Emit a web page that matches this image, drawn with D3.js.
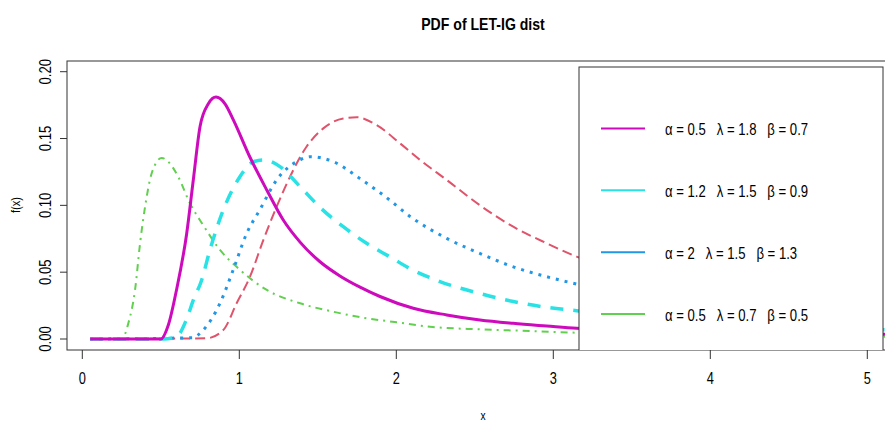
<!DOCTYPE html>
<html>
<head>
<meta charset="utf-8">
<script src="https://cdn.jsdelivr.net/npm/d3@7"></script>
<style>
  body { margin: 0; background: #fff; }
  svg text { font-family: "Liberation Sans", Arial, sans-serif; fill: #000; }
</style>
</head>
<body>
<svg id="chart" width="885" height="421"></svg>
<script>
// values
var magX = [0.05,0.50,0.548,0.60,0.665,0.707,0.75,0.803,0.852,0.909,0.962,1.068,1.175,1.28,1.387,1.514,1.641,1.769,1.896,2.108,2.321,2.533,2.745,2.958,3.149,4.0,5.2];
var magY = [0,0,0.0105,0.0367,0.079,0.119,0.159,0.176,0.181,0.176,0.164,0.136,0.1115,0.089,0.0725,0.0578,0.0472,0.0388,0.0318,0.023,0.018,0.0142,0.0117,0.0097,0.008,0.0055,0.0035];

var cyaX = [0.05,0.516,0.60,0.665,0.707,0.76,0.813,0.898,1.004,1.09,1.153,1.259,1.387,1.514,1.662,1.811,1.981,2.066,2.278,2.533,2.745,2.958,3.149,4.0,5.2];
var cyaY = [0,0,0.0017,0.015,0.029,0.044,0.0666,0.0965,0.1214,0.1326,0.134,0.129,0.114,0.0985,0.084,0.0716,0.060,0.054,0.043,0.034,0.028,0.0237,0.0212,0.012,0.0067];

var bluX = [0.05,0.70,0.77,0.877,0.962,1.047,1.13,1.238,1.387,1.45,1.6,1.769,1.917,2.108,2.321,2.533,2.745,2.958,3.127,4.0,5.2];
var bluY = [0,0.001,0.0067,0.0267,0.052,0.079,0.0965,0.119,0.134,0.1364,0.1326,0.120,0.1077,0.090,0.0753,0.064,0.054,0.0466,0.0417,0.022,0.011];

var redX = [0.05,0.79,0.898,0.983,1.068,1.153,1.238,1.323,1.429,1.535,1.662,1.748,1.875,2.024,2.151,2.321,2.533,2.745,2.958,3.149,4.0,5.2];
var redY = [0,0.0005,0.0067,0.0267,0.0466,0.074,0.099,0.1214,0.144,0.1576,0.165,0.1659,0.160,0.1464,0.134,0.119,0.100,0.084,0.0716,0.0616,0.037,0.0187];

var grnX = [0.05,0.251,0.293,0.336,0.368,0.40,0.442,0.506,0.548,0.611,0.686,0.771,0.877,0.983,1.175,1.387,1.599,1.811,2.003,2.215,2.533,2.851,3.149,4.0,5.2];
var grnY = [0,0,0.0117,0.0367,0.0716,0.099,0.124,0.1355,0.1326,0.1214,0.1015,0.085,0.0666,0.054,0.0367,0.0267,0.0204,0.0155,0.0125,0.0092,0.0072,0.006,0.0047,0.003,0.0017];

var xTicks = [0,1,2,3,4,5];
var yTicks = [0,0.05,0.10,0.15,0.20];

// legend entries (in legend order)
var legAlpha = ['0.5','1.2','2','0.5'];
var legLambda = ['1.8','1.5','1.5','0.7'];
var legBeta = ['0.7','0.9','1.3','0.5'];
var legColor = ['#CD0BBC','#28E2E5','#2297E6','#61D04F'];

var drawChart = function(){
  var svg = d3.select('#chart');
  // plot region (note: "top" is a reserved window prop, so use pTop)
  var pLeft = 67, pTop = 61, pRight = 900, pBottom = 350;

  var x = d3.scaleLinear().domain([0,5]).range([82.3, 82.3 + 5*157]);
  var y = d3.scaleLinear().domain([0,0.2]).range([339, 71.7]);

  svg.append('clipPath').attr('id','plotclip')
    .append('rect').attr('x',pLeft).attr('y',pTop).attr('width',pRight-pLeft).attr('height',pBottom-pTop);

  var series = [
    {xs: redX, ys: redY, color: '#DF536B', w: 2, dash: '10 5'},
    {xs: grnX, ys: grnY, color: '#61D04F', w: 2, dash: '2 5 7 5'},
    {xs: bluX, ys: bluY, color: '#2297E6', w: 3, dash: '3 6'},
    {xs: cyaX, ys: cyaY, color: '#28E2E5', w: 3.5, dash: '13 10'},
    {xs: magX, ys: magY, color: '#CD0BBC', w: 3, dash: null}
  ];

  var line = d3.line()
    .x(function(d) { return x(d[0]); })
    .y(function(d) { return y(d[1]); })
    .curve(d3.curveMonotoneX);

  var plot = svg.append('g').attr('clip-path','url(#plotclip)');
  series.forEach(function(s){
    var pts = s.xs.map(function(v,i){ return [v, s.ys[i]]; });
    plot.append('path').datum(pts)
      .attr('d', line)
      .attr('fill','none')
      .attr('stroke', s.color)
      .attr('stroke-width', s.w)
      .attr('stroke-dasharray', s.dash)
      .attr('stroke-linejoin','round');
  });

  // frame
  svg.append('rect').attr('x',pLeft).attr('y',pTop).attr('width',pRight-pLeft).attr('height',pBottom-pTop)
    .attr('fill','none').attr('stroke','#333').attr('stroke-width',1);

  // x axis
  var xa = svg.append('g');
  xa.selectAll('line').data(xTicks).enter().append('line')
    .attr('x1', function(d){ return x(d); }).attr('x2', function(d){ return x(d); })
    .attr('y1', pBottom).attr('y2', pBottom + 9)
    .attr('stroke','#333');
  xa.selectAll('text').data(xTicks).enter().append('text')
    .attr('transform', function(d){ return 'translate(' + x(d) + ',384) scale(0.8,1)'; })
    .attr('text-anchor','middle')
    .style('font-size','16px')
    .text(function(d){ return d; });

  // y axis
  var ya = svg.append('g');
  ya.selectAll('line').data(yTicks).enter().append('line')
    .attr('x1', pLeft - 7).attr('x2', pLeft)
    .attr('y1', function(d){ return y(d); }).attr('y2', function(d){ return y(d); })
    .attr('stroke','#333');
  ya.selectAll('text').data(yTicks).enter().append('text')
    .attr('transform', function(d){ return 'translate(51,' + y(d) + ') rotate(-90) scale(0.82,1)'; })
    .attr('text-anchor','middle')
    .style('font-size','16px')
    .text(function(d){ return d3.format('.2f')(d); });

  // titles
  svg.append('text').attr('transform','translate(483,30) scale(0.88,1)')
    .attr('text-anchor','middle').style('font-size','16px').style('font-weight','bold')
    .text('PDF of LET-IG dist');
  svg.append('text').attr('transform','translate(483,420) scale(0.85,1)')
    .attr('text-anchor','middle').style('font-size','12px').text('x');
  svg.append('text').attr('transform','translate(20,205) rotate(-90) scale(0.85,1)')
    .attr('text-anchor','middle').style('font-size','13px').text('f(x)');

  // legend (clipped to plot region like R)
  var leg = svg.append('g').attr('clip-path','url(#plotclip)');
  leg.append('rect').attr('x',579).attr('y',67).attr('width',304).attr('height',300)
    .attr('fill','#fff').attr('stroke','#333').attr('stroke-width',1);
  var rowY = d3.scaleLinear().domain([0,3]).range([128.5, 314]);
  legColor.forEach(function(c,i){
    leg.append('line').attr('x1',601).attr('x2',645)
      .attr('y1', rowY(i)).attr('y2', rowY(i))
      .attr('stroke', c).attr('stroke-width', 2);
    var t = leg.append('text')
      .attr('transform','translate(665,' + (rowY(i) + 6.5) + ') scale(0.82,1)')
      .style('font-size','16px')
      .style('white-space','pre');
    t.text('\u03b1 = ' + legAlpha[i] + '   \u03bb = ' + legLambda[i] + '   \u03b2 = ' + legBeta[i]);
  });
};
drawChart();
</script>
</body>
</html>
